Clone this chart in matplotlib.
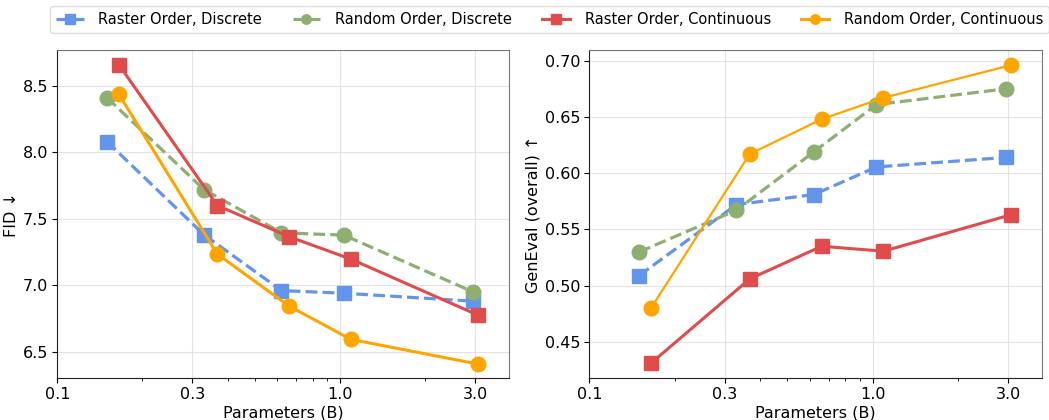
import matplotlib
matplotlib.use("Agg")
import matplotlib.pyplot as plt
from matplotlib.ticker import FixedLocator, FixedFormatter, NullFormatter, LogLocator

x_discrete = [0.15, 0.33, 0.62, 1.03, 2.95]
x_continuous = [0.165, 0.368, 0.66, 1.09, 3.07]

fid_raster_discrete = [8.08, 7.38, 6.96, 6.94, 6.88]
fid_random_discrete = [8.41, 7.72, 7.395, 7.377, 6.95]
fid_raster_continuous = [8.66, 7.60, 7.365, 7.197, 6.775]
fid_random_continuous = [8.437, 7.234, 6.843, 6.593, 6.407]

gen_raster_discrete = [0.509, 0.572, 0.581, 0.6055, 0.614]
gen_random_discrete = [0.530, 0.567, 0.619, 0.661, 0.675]
gen_raster_continuous = [0.431, 0.506, 0.535, 0.5306, 0.563]
gen_random_continuous = [0.480, 0.617, 0.648, 0.667, 0.696]

labels = ["Raster Order, Discrete", "Random Order, Discrete",
          "Raster Order, Continuous", "Random Order, Continuous"]
xticks = [0.1, 0.3, 1.0, 3.0]
xtick_labels = ["0.1", "0.3", "1.0", "3.0"]

c_blue = "#6495ED"
c_green = "#8FAF72"
c_red = "#E04B4B"
c_orange = "#FFA500"

plt.rcParams['font.family'] = ['DejaVu Sans']
fig = plt.figure(figsize=(10.49, 4.2), dpi=100)
W, H = 1049, 420
ax1 = fig.add_axes([57.3 / W, 1 - 378.3 / H, (509 - 57.3) / W, (378.3 - 50) / H])
ax2 = fig.add_axes([589.3 / W, 1 - 378.3 / H, (1042 - 589.3) / W, (378.3 - 50) / H])

def draw(ax, ys, orange_lw):
    h = []
    h += ax.plot(x_discrete, ys[0], '--', color=c_blue, lw=2.3, marker='s', ms=10.5, label=labels[0])
    h += ax.plot(x_discrete, ys[1], '--', color=c_green, lw=2.3, marker='o', ms=10.5, label=labels[1])
    h += ax.plot(x_continuous, ys[2], '-', color=c_red, lw=2.2, marker='s', ms=10.5, label=labels[2])
    h += ax.plot(x_continuous, ys[3], '-', color=c_orange, lw=orange_lw, marker='o', ms=10.5, label=labels[3])
    ax.set_xscale('log')
    ax.set_xlim(0.1, 3.95)
    ax.xaxis.set_major_locator(FixedLocator(xticks))
    ax.xaxis.set_major_formatter(FixedFormatter(xtick_labels))
    ax.xaxis.set_minor_locator(LogLocator(base=10, subs=range(2, 10)))
    ax.xaxis.set_minor_formatter(NullFormatter())
    ax.grid(True, which='major', color='#dddddd', lw=0.8, alpha=0.8)
    ax.set_axisbelow(True)
    ax.tick_params(labelsize=11.5, pad=3)
    ax.set_xlabel("Parameters (B)", fontsize=11.5, labelpad=2)
    for s in ['top', 'right']:
        ax.spines[s].set_color('#777777')
    for s in ['left', 'bottom']:
        ax.spines[s].set_color('#222222')
    return h

h = draw(ax1, [fid_raster_discrete, fid_random_discrete, fid_raster_continuous, fid_random_continuous], 2.2)
ax1.set_ylim(6.30, 8.77)
ax1.set_yticks([6.5, 7.0, 7.5, 8.0, 8.5])
ax1.set_ylabel("FID ↓", fontsize=11.5, labelpad=3)

draw(ax2, [gen_raster_discrete, gen_random_discrete, gen_raster_continuous, gen_random_continuous], 1.6)
ax2.set_ylim(0.4176, 0.7095)
ax2.set_yticks([0.45, 0.50, 0.55, 0.60, 0.65, 0.70])
ax2.set_ylabel("GenEval (overall) ↑", fontsize=11.5, labelpad=3)

fig.legend(handles=h, labels=labels, loc='upper center', ncol=4,
           bbox_to_anchor=(549.5 / W, 1.0), fontsize=10.5, markerscale=0.65,
           frameon=True, framealpha=1, edgecolor='#dddddd',
           columnspacing=2.1, handlelength=1.9, handletextpad=1.0,
           borderaxespad=0.4)

fig.savefig("out.png", dpi=100)
